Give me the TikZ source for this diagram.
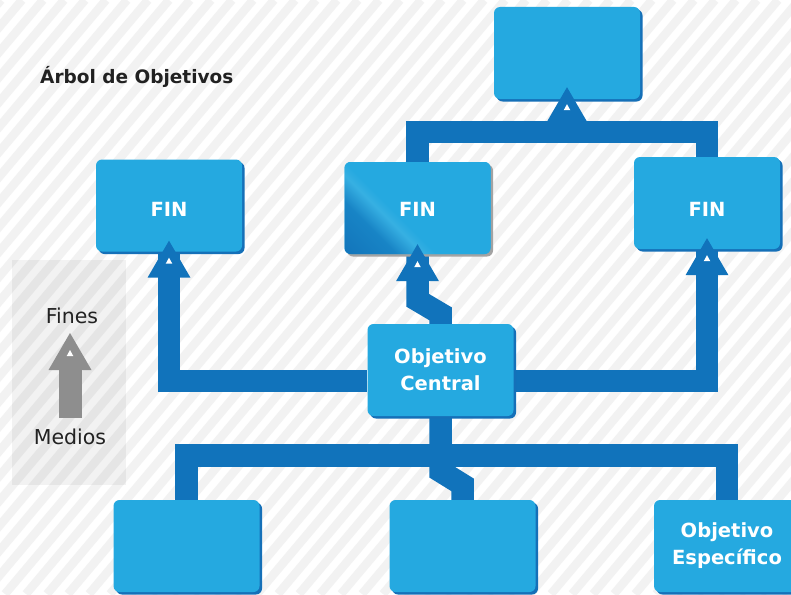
\documentclass[tikz,border=0pt]{standalone}
\usepackage{fontspec}
\setmainfont{DejaVu Sans}
\usetikzlibrary{shadows}

\definecolor{boxblue}{HTML}{25A9E0}
\definecolor{edgeblue}{HTML}{1570B8}
\definecolor{linkblue}{HTML}{1173BB}
\definecolor{deepblue}{HTML}{0D66B0}
\definecolor{stripegray}{HTML}{F2F2F2}
\definecolor{arrowgray}{HTML}{8E8E8E}
\definecolor{textdark}{HTML}{222222}
\definecolor{shadegray}{HTML}{A3A3A3}

% diagonal fill of the highlighted box: dark corner fading into the normal blue
\pgfdeclarehorizontalshading{finshade}{100bp}{color(0bp)=(deepblue); color(30bp)=(deepblue!55!boxblue); color(38bp)=(boxblue!92!white); color(42bp)=(boxblue); color(100bp)=(boxblue)}

\pgfdeclarelayer{canvas}
\pgfdeclarelayer{links}
\pgfsetlayers{canvas,links,main}

% label pushed down inside its box without changing the box size
\newcommand\lowered[2]{\raisebox{-#1}[\height][\depth]{#2}}

\tikzset{
  box/.style={rectangle, rounded corners=6pt, fill=boxblue, minimum width=146pt,
    minimum height=92pt, inner sep=0pt, text=white, align=center,
    font=\bfseries\fontsize{19.5}{27}\selectfont},
  boxsh/.style={box, general shadow={fill=edgeblue, shadow xshift=2.5pt, shadow yshift=-2.5pt}},
  boxhi/.style={box, shading=finshade, shading angle=45,
    general shadow={fill=shadegray, shadow xshift=2.5pt, shadow yshift=-2.5pt}},
  link/.style={draw=linkblue, line width=22.5pt, line join=miter},
  stripe/.style={draw=stripegray, line width=8.5pt},
  sidetext/.style={font=\fontsize{20.5}{20.5}\selectfont, text=textdark},
  headblue/.pic={
    \fill[linkblue] (0,0) -- (21.5,37) -- (-21.5,37) -- cycle;
    \fill[white] (0,17) -- (3.3,23) -- (-3.3,23) -- cycle;},
  headgray/.pic={
    \fill[arrowgray] (0,0) -- (21.5,37) -- (-21.5,37) -- cycle;
    \fill[white] (0,17) -- (3.3,23) -- (-3.3,23) -- cycle;},
}

\begin{document}
\begin{tikzpicture}[x=1pt,y=-1pt]
  \useasboundingbox (0,0) rectangle (791,594);
  \clip (0,0) rectangle (791,594);

  % white canvas with light diagonal stripes
  \begin{pgfonlayer}{canvas}
    \fill[white] (0,0) rectangle (791,594);
    \foreach \i in {-520,-499,...,800}
      \draw[stripe] (\i,594) -- (\i+500,0);
  \end{pgfonlayer}

  % side panel: means -> ends
  \fill[black, opacity=0.05] (12,260) rectangle (126,485);
  \fill[arrowgray] (59,368) rectangle (82,418);
  \pic at (70,333) {headgray};
  \node[sidetext] (fines) at (72,316) {Fines};
  \node[sidetext] (medios) at (70,437) {Medios};

  % title
  \node[anchor=base west, font=\bfseries\fontsize{18.5}{20}\selectfont, text=textdark, inner sep=0pt]
    (title) at (40,83) {Árbol de Objetivos};

  % boxes
  \node[boxsh] (top) at (567,53) {};
  \node[boxsh] (fin1) at (169,205.5) {\lowered{4pt}{FIN}};
  \node[boxhi] (fin2) at (417.5,208) {\lowered{1.5pt}{FIN}};
  \node[boxsh] (fin3) at (707,203) {\lowered{6pt}{FIN}};
  \node[boxsh] (central) at (440.5,370) {Objetivo\\Central};
  \node[boxsh] (b1) at (186.5,546) {};
  \node[boxsh] (b2) at (462.5,546) {};
  \node[boxsh] (b3) at (727,546) {Objetivo\\Específico};

  % points through which the connector bars run
  \coordinate (tophub) at (567,132);
  \coordinate (midhub) at (440,381);
  \coordinate (lowhub) at (440,455.5);

  % connectors, under the boxes
  \begin{pgfonlayer}{links}
    \path[link] (fin2.north) |- (tophub) -| (fin3.north);
    \path[link] (fin1.south) |- (central.west |- midhub);
    \path[link] (fin3.south) |- (central.east |- midhub);
    \path[link] (fin2.south) -- ([yshift=-46pt]fin2.south)
      -- ([yshift=10pt]central.north) -- (central.north);
    \path[link] (central.south) -- ([yshift=-55pt]central.south)
      -- ([yshift=15pt]b2.north) -- (b2.north);
    \path[link] (b1.north) |- (lowhub) -| (b3.north);
  \end{pgfonlayer}

  % arrow heads pointing into the upper boxes
  \pic at ([yshift=12pt]top.south) {headblue};
  \pic at ([yshift=11pt]fin1.south) {headblue};
  \pic at ([yshift=10pt]fin2.south) {headblue};
  \pic at ([yshift=11pt]fin3.south) {headblue};
\end{tikzpicture}
\end{document}
